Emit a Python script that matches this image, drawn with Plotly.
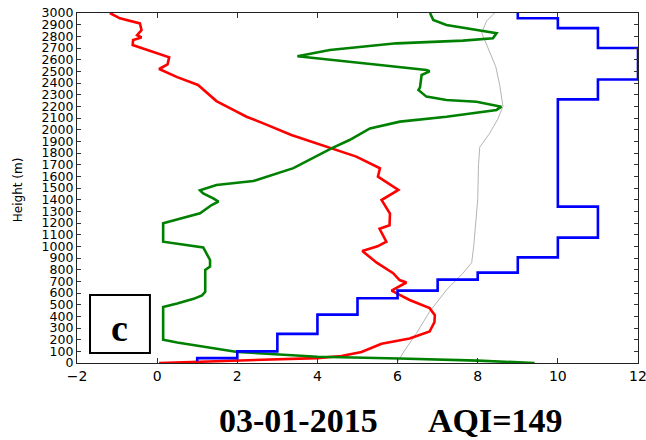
import plotly.graph_objects as go

# Vertical profiles: value on x, height (m) on y
red_x = [0.05, 2.0, 4.0, 4.6, 5.1, 5.6, 6.3, 6.8, 6.92, 6.93, 6.8, 6.3, 6.06, 5.85, 6.22,
         6.05, 5.89, 5.64, 5.48, 5.12, 5.5, 5.72, 5.55, 5.8, 5.81, 5.6, 6.02, 5.51, 5.56,
         4.97, 4.35, 3.35, 2.65, 2.23, 1.9, 1.48, 1.02, 0.5, 0.05, 0.26, 0.3, -0.22,
         -0.61, -0.6, -0.39, -0.5, -0.39, -0.43, -0.93, -1.18]
red_h = [0, 20, 42, 60, 95, 165, 210, 270, 350, 410, 470, 540, 583, 620, 690,
         711, 770, 826, 860, 960, 1000, 1040, 1150, 1180, 1280, 1397, 1483, 1597, 1669,
         1769, 1840, 1954, 2054, 2111, 2169, 2245, 2383, 2450, 2520, 2560, 2620, 2683,
         2726, 2769, 2790, 2811, 2854, 2911, 2954, 3000]

green_x = [9.42, 8.0, 6.05, 4.0, 2.0, 1.15, 0.5, 0.15, 0.15, 0.5, 0.91, 1.12, 1.2, 1.2,
           1.32, 1.32, 1.15, 0.15, 0.15, 1.07, 1.36, 1.53, 1.4, 1.15, 1.07, 1.48, 2.4,
           3.4, 4.35, 4.8, 5.31, 6.06, 7.22, 8.47, 8.59, 7.97, 7.22, 6.72, 6.52, 6.56,
           6.6, 6.8, 6.72, 5.56, 4.31, 3.5, 4.31, 5.97, 7.63, 8.38, 8.47, 7.97, 7.22,
           6.89, 6.81]
green_h = [0, 20, 38, 53, 95, 140, 175, 200, 480, 510, 550, 580, 610, 797,
           826, 883, 990, 1040, 1197, 1283, 1354, 1383, 1411, 1454, 1480, 1526, 1560,
           1670, 1840, 1911, 2011, 2069, 2111, 2169, 2197, 2240, 2254, 2283, 2340, 2363,
           2469, 2500, 2511, 2554, 2597, 2630, 2683, 2740, 2763, 2783, 2826, 2854, 2897,
           2940, 3000]

# Layer values, each given at the bottom height of its layer
blue_x = [1, 2, 3, 4, 5, 6, 7, 8, 9, 10, 11, 10, 11, 12, 11, 10, 9, 9]
blue_h = [15, 42, 100, 250, 415, 555, 620, 715, 775, 905, 1075, 1340, 2260, 2430,
          2700, 2870, 2955, 3000]

gray_x = [6.0, 6.2, 6.47, 6.8, 7.22, 7.63, 7.85, 7.9, 7.95, 8.0, 8.02, 8.05, 8.3, 8.5,
          8.63, 8.55, 8.45, 8.3, 8.18, 8.1, 8.22, 8.42]
gray_h = [10, 120, 254, 440, 626, 769, 860, 1000, 1200, 1400, 1700, 1850, 1970, 2090,
          2200, 2380, 2540, 2660, 2750, 2830, 2930, 3000]

x_ticks = [-2, 0, 2, 4, 6, 8, 10, 12]
y_ticks = list(range(0, 3001, 100))

panel_label = "c"
date_text = "03-01-2015"
aqi_text = "AQI=149"

fig = go.Figure()
fig.add_trace(go.Scatter(x=gray_x, y=gray_h, mode="lines",
                         line=dict(color="#b4b4b4", width=1)))
fig.add_trace(go.Scatter(x=red_x, y=red_h, mode="lines",
                         line=dict(color="#ff0000", width=2.6)))
fig.add_trace(go.Scatter(x=green_x, y=green_h, mode="lines",
                         line=dict(color="#008000", width=2.6)))
fig.add_trace(go.Scatter(x=blue_x, y=blue_h, mode="lines",
                         line=dict(color="#0000ff", width=2.6, shape="vh")))

axis_common = dict(showline=True, linecolor="#222", linewidth=1.3, mirror="ticks",
                   ticks="inside", tickcolor="#333", showgrid=False, zeroline=False,
                   automargin=False, ticklabeloverflow="allow",
                   tickfont=dict(family="DejaVu Sans", color="black"))

fig.update_xaxes(range=[-2, 12], tickvals=x_ticks, ticklen=5, **axis_common)
fig.update_yaxes(range=[0, 3000], tickvals=y_ticks, ticklen=4, **axis_common)
fig.update_xaxes(tickfont_size=14)
fig.update_yaxes(tickfont_size=12.5)

annotations = [
    dict(text="Height (m)", xref="paper", yref="paper", x=-0.105, y=0.494,
         textangle=-90, showarrow=False, xanchor="center", yanchor="middle",
         font=dict(family="DejaVu Sans", size=12, color="black")),
    dict(text="<b>%s</b>" % panel_label, xref="paper", yref="paper", x=0.0766, y=0.1,
         showarrow=False, xanchor="center", yanchor="middle",
         font=dict(family="Liberation Serif", size=38, color="black")),
    dict(text="<b>%s</b>" % date_text, xref="paper", yref="paper", x=0.3957, y=-0.163,
         showarrow=False, xanchor="center", yanchor="middle",
         font=dict(family="Liberation Serif", size=34, color="black")),
    dict(text="<b>%s</b>" % aqi_text, xref="paper", yref="paper", x=0.746, y=-0.163,
         showarrow=False, xanchor="center", yanchor="middle",
         font=dict(family="Liberation Serif", size=34, color="black")),
    dict(text="<b>Q</b>", xref="paper", yref="paper", x=0.6916, y=1.03,
         showarrow=False, xanchor="center", yanchor="bottom",
         font=dict(family="Liberation Serif", size=34, color="black")),
]

fig.update_layout(
    width=646, height=440,
    margin=dict(l=77, r=8, t=13, b=77),
    paper_bgcolor="white", plot_bgcolor="white",
    showlegend=False,
    annotations=annotations,
    shapes=[dict(type="rect", xref="paper", yref="paper",
                 x0=0.0232, x1=0.130, y0=0.0286, y1=0.194,
                 line=dict(color="black", width=2), fillcolor="rgba(0,0,0,0)")],
)

fig.write_html("out.html")
